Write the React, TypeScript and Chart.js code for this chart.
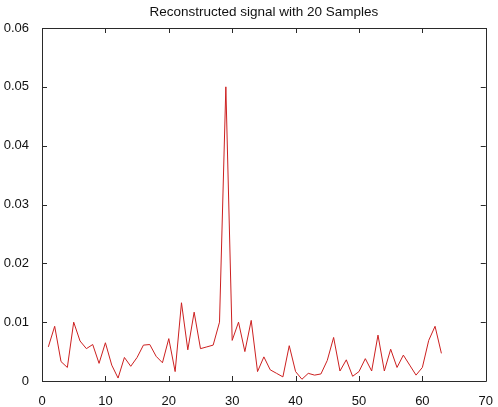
import React, { useEffect, useRef } from "react";
import { Chart, registerables } from "chart.js";

Chart.register(...registerables);

const TITLE = "Reconstructed signal with 20 Samples";
const X_TICKS = [0, 10, 20, 30, 40, 50, 60, 70];
const Y_TICKS = [0, 0.01, 0.02, 0.03, 0.04, 0.05, 0.06];
const SIGNAL = [
  0.0058, 0.0093, 0.0033, 0.0023, 0.0100, 0.0068, 0.0055, 0.0062, 0.0030, 0.0065,
  0.0027, 0.0005, 0.0040, 0.0025, 0.0040, 0.0061, 0.0062, 0.0042, 0.0031, 0.0072,
  0.0016, 0.0133, 0.0053, 0.0117, 0.0055, 0.0058, 0.0061, 0.0100, 0.0500, 0.0069,
  0.0100, 0.0050, 0.0103, 0.0016, 0.0041, 0.0019, 0.0013, 0.0007, 0.0060, 0.0016,
  0.0003, 0.0013, 0.0010, 0.0012, 0.0035, 0.0074, 0.0017, 0.0036, 0.0008, 0.0016,
  0.0038, 0.0017, 0.0078, 0.0017, 0.0054, 0.0023, 0.0044, 0.0027, 0.0010, 0.0023,
  0.0069, 0.0093, 0.0047,
];

const FONT = "'Liberation Sans', Arial, sans-serif";

const boxPlugin = {
  id: "matlabBox",
  afterDraw(chart: any) {
    const { ctx, chartArea } = chart;
    const { left, right, top, bottom } = chartArea;
    const xs = chart.scales.x;
    const ys = chart.scales.y;
    ctx.save();
    ctx.strokeStyle = "#2a2a2a";
    ctx.lineWidth = 1;
    ctx.beginPath();
    ctx.rect(Math.round(left) + 0.5, Math.round(top) + 0.5, Math.round(right - left), Math.round(bottom - top));
    ctx.stroke();
    const tl = 5;
    ctx.beginPath();
    X_TICKS.forEach((v) => {
      const px = Math.round(xs.getPixelForValue(v)) + 0.5;
      ctx.moveTo(px, bottom);
      ctx.lineTo(px, bottom - tl);
      ctx.moveTo(px, top);
      ctx.lineTo(px, top + tl);
    });
    Y_TICKS.forEach((v) => {
      const py = Math.round(ys.getPixelForValue(v)) + 0.5;
      ctx.moveTo(left, py);
      ctx.lineTo(left + tl, py);
      ctx.moveTo(right, py);
      ctx.lineTo(right - tl, py);
    });
    ctx.stroke();
    ctx.restore();
  },
};

export default function App() {
  const ref = useRef<HTMLCanvasElement>(null);
  useEffect(() => {
    const canvas = ref.current!;
    const chart = new Chart(canvas, {
      type: "line",
      data: {
        datasets: [
          {
            data: SIGNAL.map((v, i) => ({ x: i + 1, y: v })),
            borderColor: "#cc2020",
            borderWidth: 1,
            pointRadius: 0,
            tension: 0,
            fill: false,
          },
        ],
      },
      options: {
        responsive: false,
        animation: false,
        layout: { padding: { left: 0, right: 8, top: 0, bottom: 0 } },
        plugins: {
          legend: { display: false },
          tooltip: { enabled: false },
          title: {
            display: true,
            text: TITLE,
            fullSize: false,
            color: "#111",
            font: { family: FONT, size: 13.5, weight: "normal", lineHeight: 1.2 },
            padding: { top: 4, bottom: 7.8 },
          },
        },
        scales: {
          x: {
            type: "linear",
            min: 0,
            max: 70,
            afterBuildTicks: (s: any) => {
              s.ticks = X_TICKS.map((v) => ({ value: v }));
            },
            afterFit: (s: any) => {
              s.height = 26;
            },
            grid: { display: false },
            border: { display: false },
            ticks: {
              color: "#111",
              padding: 5,
              maxRotation: 0,
              font: { family: FONT, size: 13 },
              callback: (v: any) => String(v),
            },
          },
          y: {
            type: "linear",
            min: 0,
            max: 0.06,
            afterBuildTicks: (s: any) => {
              s.ticks = Y_TICKS.map((v) => ({ value: v }));
            },
            afterFit: (s: any) => {
              s.width = 42;
            },
            grid: { display: false },
            border: { display: false },
            ticks: {
              color: "#111",
              padding: 5,
              font: { family: FONT, size: 13 },
              callback: (v: any) => (Number(v) === 0 ? "0" : Number(v).toFixed(2)),
            },
          },
        },
      },
      plugins: [boxPlugin],
    });
    return () => chart.destroy();
  }, []);
  return (
    <div style={{ position: "fixed", left: 0, top: 0, width: 498, height: 407, background: "#fff" }}>
      <canvas ref={ref} width={498} height={407} />
    </div>
  );
}
